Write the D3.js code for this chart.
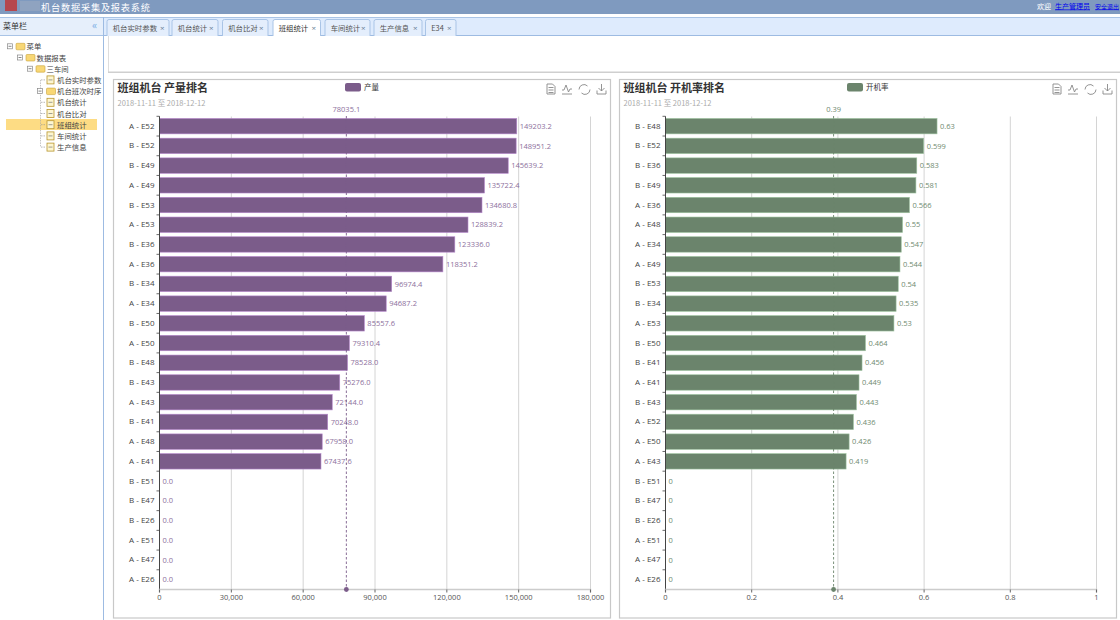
<!DOCTYPE html>
<html>
<head>
<meta charset="utf-8">
<script src="https://cdn.jsdelivr.net/npm/d3@7"></script>
<style>
  html, body { margin: 0; padding: 0; background: #fff; overflow: hidden; }
  text { font-family: "Open Sans", "Noto Sans CJK SC", sans-serif; }
  .cjk { font-family: "Noto Sans CJK SC", sans-serif; }
</style>
</head>
<body>
<div id="holder"></div>
<script>
var outputCats = ["A - E52","B - E52","B - E49","A - E49","B - E53","A - E53","B - E36","A - E36","B - E34","A - E34","B - E50","A - E50","B - E48","B - E43","A - E43","B - E41","A - E48","A - E41","B - E51","B - E47","B - E26","A - E51","A - E47","A - E26"];
var outputVals = [149203.2,148951.2,145639.2,135722.4,134680.8,128839.2,123336.0,118351.2,96974.4,94687.2,85557.6,79310.4,78528.0,75276.0,72144.0,70248.0,67958.0,67437.6,0,0,0,0,0,0];
var outputTicks = [0,30000,60000,90000,120000,150000,180000];
var outputAvg = 78035.1;

var rateCats = ["B - E48","B - E52","B - E36","B - E49","A - E36","A - E48","A - E34","A - E49","B - E53","B - E34","A - E53","B - E50","B - E41","A - E41","B - E43","A - E52","A - E50","A - E43","B - E51","B - E47","B - E26","A - E51","A - E47","A - E26"];
var rateVals = [0.63,0.599,0.583,0.581,0.566,0.55,0.547,0.544,0.54,0.535,0.53,0.464,0.456,0.449,0.443,0.436,0.426,0.419,0,0,0,0,0,0];
var rateTicks = [0,0.2,0.4,0.6,0.8,1];
var rateAvg = 0.39;

var tabNames = ["机台实时参数","机台统计","机台比对","班组统计","车间统计","生产信息","E34"];
var tabLefts = [107,172,222.5,273,325,374,425.5];
var tabRights = [169,218,268,320.5,370,422,456];
var activeTab = 3;

// label, indent level, icon type
var treeItems = [
  ["菜单",0,"open"],["数据报表",1,"open"],["三车间",2,"open"],
  ["机台实时参数",3,"file"],["机台班次时序",3,"folder"],["机台统计",3,"file"],
  ["机台比对",3,"file"],["班组统计",3,"file"],["车间统计",3,"file"],["生产信息",3,"file"]
];

var svg = d3.select("#holder").append("svg")
  .attr("width", 1120).attr("height", 620)
  .style("display", "block");

function drawChrome() {
  // top banner
  svg.append("rect").attr("width", 1120).attr("height", 14).attr("fill", "#7f9aBf");
  svg.append("rect").attr("x", 5).attr("y", 0).attr("width", 12).attr("height", 11).attr("fill", "#b5474e");
  svg.append("rect").attr("x", 20).attr("y", 1).attr("width", 20).attr("height", 10).attr("fill", "#8fa3c0");
  svg.append("text").attr("class", "cjk").attr("x", 41).attr("y", 10.5)
    .attr("font-size", 9.2).attr("textLength", 109).attr("fill", "#fff").text("机台数据采集及报表系统");
  svg.append("text").attr("class", "cjk").attr("x", 1037).attr("y", 8.5)
    .attr("font-size", 7).attr("fill", "#fff").text("欢迎");
  svg.append("text").attr("class", "cjk").attr("x", 1055).attr("y", 8.5)
    .attr("font-size", 7).attr("fill", "#0000ee").attr("text-decoration", "underline").text("生产管理员");
  svg.append("text").attr("class", "cjk").attr("x", 1095).attr("y", 8.5)
    .attr("font-size", 6).attr("fill", "#0000ee").attr("text-decoration", "underline").text("安全退出");

  // left menu panel
  svg.append("rect").attr("x", 0).attr("y", 18).attr("width", 103.5).attr("height", 17).attr("fill", "#e6effb");
  svg.append("line").attr("x1", 0).attr("x2", 1120).attr("y1", 17.5).attr("y2", 17.5).attr("stroke", "#a9c4e6");
  svg.append("line").attr("x1", 0).attr("x2", 103).attr("y1", 35.5).attr("y2", 35.5).attr("stroke", "#a9c4e6");
  svg.append("line").attr("x1", 103.5).attr("x2", 103.5).attr("y1", 17).attr("y2", 620).attr("stroke", "#9dbbe2");
  svg.append("text").attr("class", "cjk").attr("x", 3).attr("y", 29).attr("font-size", 8).attr("fill", "#333").text("菜单栏");
  svg.append("text").attr("x", 92).attr("y", 29).attr("font-size", 10).attr("fill", "#7fb2e5").text("«");

  // menu tree
  var rowH = 11.2, top = 46.3;
  var indent = [10, 20, 30, 40];
  svg.append("rect").attr("x", 6).attr("y", 119).attr("width", 91).attr("height", 11).attr("fill", "#fddc84");
  svg.append("line").attr("x1", 40.5).attr("x2", 40.5).attr("y1", top + 3 * rowH).attr("y2", top + 9 * rowH)
    .attr("stroke", "#aaa").attr("stroke-width", 0.7).attr("stroke-dasharray", "1.5,1");
  treeItems.forEach(function (d, i) {
    var y = top + i * rowH, x = indent[d[1]];
    // connector
    if (d[2] === "open" || d[2] === "folder") {
      var bx = d[2] === "folder" ? 40 : x;
      svg.append("rect").attr("x", bx - 2.5).attr("y", y - 2.5).attr("width", 5).attr("height", 5)
        .attr("fill", "#fff").attr("stroke", "#888").attr("stroke-width", 0.7);
      svg.append("line").attr("x1", bx - 1.5).attr("x2", bx + 1.5).attr("y1", y).attr("y2", y).attr("stroke", "#555").attr("stroke-width", 0.7);
    } else {
      svg.append("line").attr("x1", 41).attr("x2", 46).attr("y1", y).attr("y2", y)
        .attr("stroke", "#999").attr("stroke-width", 0.7).attr("stroke-dasharray", "1.5,1");
    }
    var ix = d[2] === "open" ? x + 6 : 46.5;
    if (d[2] === "file") {
      svg.append("rect").attr("x", ix + 0.5).attr("y", y - 4).attr("width", 7).attr("height", 8)
        .attr("fill", "#fdf6d0").attr("stroke", "#b8962e").attr("stroke-width", 0.8);
      svg.append("line").attr("x1", ix + 2).attr("x2", ix + 6).attr("y1", y).attr("y2", y).attr("stroke", "#777").attr("stroke-width", 0.7);
    } else {
      svg.append("rect").attr("x", ix).attr("y", y - 3).attr("width", 9).attr("height", 6.5).attr("rx", 1)
        .attr("fill", "#f8d775").attr("stroke", "#c9a33a").attr("stroke-width", 0.6);
    }
    svg.append("text").attr("class", "cjk").attr("x", ix + 10.5).attr("y", y + 3)
      .attr("font-size", 7.4).attr("fill", "#444").text(d[0]);
  });

  // tab strip
  svg.append("rect").attr("x", 104).attr("y", 18).attr("width", 1016).attr("height", 17).attr("fill", "#deebfd");
  svg.append("line").attr("x1", 104).attr("x2", 1120).attr("y1", 35.5).attr("y2", 35.5).attr("stroke", "#9dbbe2");
  tabNames.forEach(function (name, i) {
    var x0 = tabLefts[i], x1 = tabRights[i];
    svg.append("path")
      .attr("d", "M" + x0 + ",36V21.5q0,-2 2,-2H" + (x1 - 2) + "q2,0 2,2V36")
      .attr("fill", i === activeTab ? "#fff" : "#e4eefc").attr("stroke", "#a9c4e6");
    svg.append("text").attr("class", "cjk").attr("x", x0 + 5.7).attr("y", 30.5)
      .attr("font-size", 7.4).attr("fill", i === activeTab ? "#333" : "#555").text(name);
    svg.append("text").attr("x", x1 - 6.7).attr("y", 30.5).attr("text-anchor", "middle")
      .attr("font-size", 8).attr("fill", "#6a7f99").text("×");
  });

  // empty filter panel
  svg.append("line").attr("x1", 108.5).attr("x2", 108.5).attr("y1", 36).attr("y2", 72).attr("stroke", "#ddd");
  svg.append("rect").attr("x", 108).attr("y", 71.5).attr("width", 1012).attr("height", 1.5).attr("fill", "#cfcfcf");
}

function drawIcons(g, x0) {
  var stroke = "#888";
  // data view, line, refresh, save
  g.append("path").attr("d", "M" + x0 + ",84h5.5l2.5,2.5v7.5h-8zM" + (x0 + 1.5) + ",87.5h5M" + (x0 + 1.5) + ",90h5M" + (x0 + 1.5) + ",92.5h5")
    .attr("fill", "none").attr("stroke", stroke).attr("stroke-width", 0.9);
  g.append("path").attr("d", "M" + (x0 + 15) + ",90h2l2,-5l2.5,7l1.5,-3h2M" + (x0 + 15) + ",94h10")
    .attr("fill", "none").attr("stroke", stroke).attr("stroke-width", 0.9);
  g.append("path").attr("d", "M" + (x0 + 32) + ",89.5a5,5 0 0 1 8.5,-3.5M" + (x0 + 43) + ",89.5a5,5 0 0 1 -8.5,3.5")
    .attr("fill", "none").attr("stroke", stroke).attr("stroke-width", 0.9);
  g.append("path").attr("d", "M" + (x0 + 54.5) + ",84v7M" + (x0 + 51.5) + ",88l3,3l3,-3M" + (x0 + 50) + ",90.5v3.5h9v-3.5")
    .attr("fill", "none").attr("stroke", stroke).attr("stroke-width", 0.9);
}

function drawPanel(cfg) {
  var g = svg.append("g");
  g.append("rect").attr("x", cfg.left).attr("y", 79.5).attr("width", cfg.width).attr("height", 538.5)
    .attr("fill", "#fff").attr("stroke", "#c8c8c8").attr("stroke-width", 1.2);

  g.append("text").attr("class", "cjk").attr("x", cfg.left + 4).attr("y", 92)
    .attr("font-size", 11).attr("font-weight", 700).attr("fill", "#333").text(cfg.title);
  g.append("text").attr("class", "cjk").attr("x", cfg.left + 4).attr("y", 106)
    .attr("font-size", 7.5).attr("fill", "#aaa").text("2018-11-11 至 2018-12-12");

  g.append("rect").attr("x", cfg.legendX).attr("y", 83).attr("width", 16).attr("height", 8.5).attr("rx", 2).attr("fill", cfg.color);
  g.append("text").attr("class", "cjk").attr("x", cfg.legendX + 19).attr("y", 89.5)
    .attr("font-size", 7.5).attr("fill", "#333").text(cfg.legend);

  drawIcons(g, cfg.iconX);

  var x = d3.scaleLinear().domain(cfg.domain).range([cfg.x0, cfg.x0 + 431]);
  var y = d3.scaleBand().domain(cfg.cats).range([116.3, 589.5]).paddingInner(0.218).paddingOuter(0.109);
  var gap = (y.step() - y.bandwidth()) / 2;

  // grid lines
  g.append("g").selectAll("line").data(cfg.ticks.slice(1)).enter().append("line")
    .attr("x1", function (d) { return x(d); }).attr("x2", function (d) { return x(d); })
    .attr("y1", 116.5).attr("y2", 589.5).attr("stroke", "#d4d4d4").attr("stroke-width", 1);

  // bars
  g.append("g").selectAll("rect").data(cfg.vals).enter().append("rect")
    .attr("x", cfg.x0)
    .attr("y", function (d, i) { return y(cfg.cats[i]); })
    .attr("width", function (d) { return x(d) - cfg.x0; })
    .attr("height", y.bandwidth())
    .attr("fill", cfg.color)
    .attr("stroke", d3.color(cfg.color).brighter(1.1))
    .attr("stroke-width", function (d) { return d > 0 ? 0.6 : 0; });

  // value labels
  g.append("g").selectAll("text").data(cfg.vals).enter().append("text")
    .attr("x", function (d) { return x(d) + 3; })
    .attr("y", function (d, i) { return y(cfg.cats[i]) + y.bandwidth() / 2 + 2.7; })
    .attr("font-size", 7.5).attr("fill", cfg.labelColor)
    .text(cfg.fmt);

  // average marker line and label
  var ax = x(cfg.avg);
  g.append("line").attr("x1", ax).attr("x2", ax).attr("y1", 116).attr("y2", 589.5)
    .attr("stroke", cfg.color).attr("stroke-width", 0.9).attr("stroke-dasharray", "2.5,2");
  g.append("text").attr("x", ax).attr("y", 112).attr("text-anchor", "middle")
    .attr("font-size", 7.5).attr("fill", cfg.labelColor).text(cfg.avg);

  // axes, category ticks sit between the bands
  var yAxis = d3.axisLeft(y).offset(0).tickSize(0).tickPadding(5);
  var yG = g.append("g").attr("transform", "translate(" + cfg.x0 + ",0)").call(yAxis);
  yG.selectAll("text").attr("font-size", 8).attr("fill", "#444").style("font-family", '"Open Sans", sans-serif');
  yG.select(".domain").attr("stroke", "#444");
  g.append("g").selectAll("line").data(cfg.cats).enter().append("line")
    .attr("x1", cfg.x0 - 3).attr("x2", cfg.x0)
    .attr("y1", function (d) { return y(d) - gap; })
    .attr("y2", function (d) { return y(d) - gap; })
    .attr("stroke", "#444").attr("stroke-width", 0.8);

  var xAxis = d3.axisBottom(x).offset(0).tickValues(cfg.ticks).tickSize(3).tickPadding(2).tickFormat(cfg.tickFmt);
  var xG = g.append("g").attr("transform", "translate(0,589.5)").call(xAxis);
  xG.selectAll("text").attr("font-size", 7.5).attr("fill", "#555").style("font-family", '"Open Sans", sans-serif');
  xG.selectAll("line").attr("stroke", "#666");
  xG.select(".domain").attr("stroke", "#ccc").attr("stroke-width", 1.5);

  g.append("circle").attr("cx", ax).attr("cy", 589.5).attr("r", 2.4).attr("fill", cfg.color);
}

drawChrome();

drawPanel({
  left: 113.5, width: 497, x0: 159.5,
  title: "班组机台 产量排名", legend: "产量", legendX: 345, iconX: 547,
  color: "#7b5c8a", labelColor: "#8c6f9c",
  cats: outputCats, vals: outputVals, ticks: outputTicks, avg: outputAvg,
  domain: [0, 180000],
  fmt: function (d) { return d.toFixed(1); },
  tickFmt: d3.format(",")
});

drawPanel({
  left: 619.5, width: 497, x0: 665.5,
  title: "班组机台 开机率排名", legend: "开机率", legendX: 847, iconX: 1053,
  color: "#6b846c", labelColor: "#6f8a70",
  cats: rateCats, vals: rateVals, ticks: rateTicks, avg: rateAvg,
  domain: [0, 1],
  fmt: function (d) { return String(d); },
  tickFmt: function (d) { return String(d); }
});
</script>
</body>
</html>
